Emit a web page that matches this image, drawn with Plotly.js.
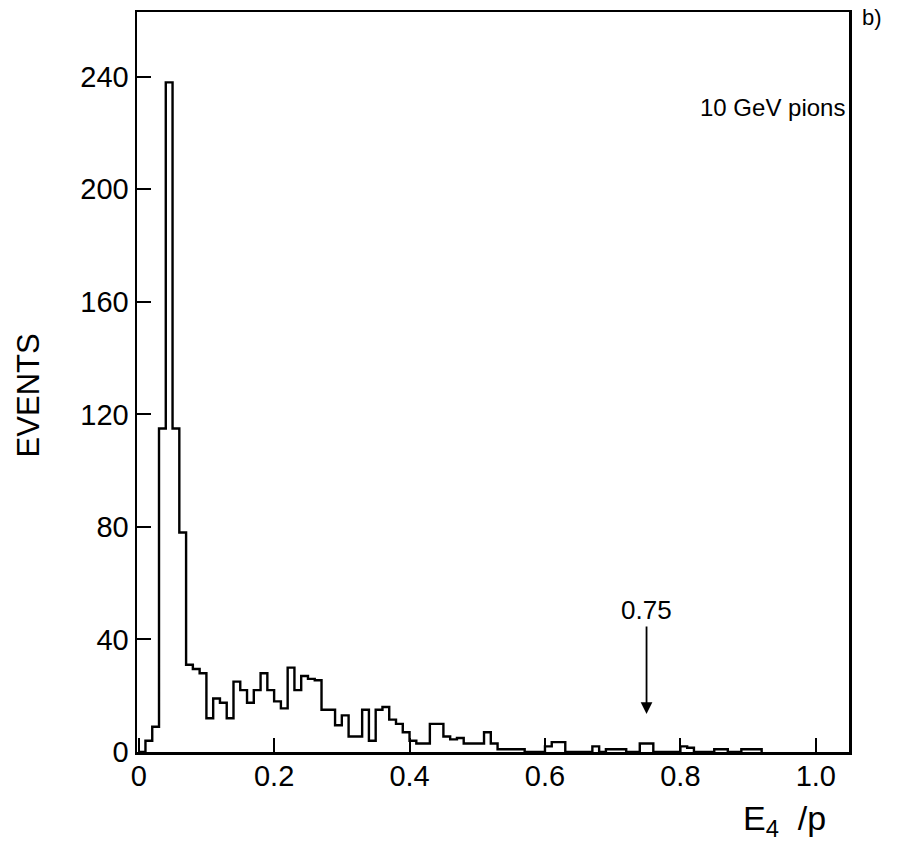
<!DOCTYPE html>
<html>
<head>
<meta charset="utf-8">
<script src="https://cdn.plot.ly/plotly-3.0.1.min.js"></script>
<style>
  html, body { margin: 0; padding: 0; background: #ffffff; }
  #chart { width: 912px; height: 851px; }
</style>
</head>
<body>
<div id="chart"></div>
<script>
// Bin edges of E4/p histogram (bin width 0.01)
const binEdges = [0.00,0.01,0.02,0.03,0.04,0.05,0.06,0.07,0.08,0.09,
  0.10,0.11,0.12,0.13,0.14,0.15,0.16,0.17,0.18,0.19,
  0.20,0.21,0.22,0.23,0.24,0.25,0.26,0.27,0.28,0.29,
  0.30,0.31,0.32,0.33,0.34,0.35,0.36,0.37,0.38,0.39,
  0.40,0.41,0.42,0.43,0.44,0.45,0.46,0.47,0.48,0.49,
  0.50,0.51,0.52,0.53,0.54,0.55,0.56,0.57,0.58,0.59,
  0.60,0.61,0.62,0.63,0.64,0.65,0.66,0.67,0.68,0.69,
  0.70,0.71,0.72,0.73,0.74,0.75,0.76,0.77,0.78,0.79,
  0.80,0.81,0.82,0.83,0.84,0.85,0.86,0.87,0.88,0.89,
  0.90,0.91,0.92];

// Events per bin
const events = [0,4,9,115,238,115,78,31,29.5,28,
  12,19,17.5,12,25,22,17.5,22,28,22,
  18,15.5,30,22,27,26,25.5,15,15,9.5,
  13,5.5,5.5,15,4,15,16,11.5,10,7,
  4,3,3,10,10,5.5,4.5,5,3,3,
  3,7,3,1,1,1,1,0,0,0,
  2,3.5,3.5,0,0,0,0,2,0,1,
  1,1,0,0,3,3,0,0,0,0,
  2,1.5,0,0,0,1,1,0,0,1,
  1,1];

const xTickVals = [0, 0.2, 0.4, 0.6, 0.8, 1.0];
const xTickText = ['0', '0.2', '0.4', '0.6', '0.8', '1.0'];
const yTickVals = [0, 40, 80, 120, 160, 200, 240];
const yTickText = ['0', '40', '80', '120', '160', '200', '240'];

const cutValue = 0.75;
const cutArrowTip = 13.5;

const FONT = '"Liberation Sans", Arial, Helvetica, sans-serif';

const trace = {
  x: binEdges,
  y: events.concat([0]),
  type: 'scatter',
  mode: 'lines',
  line: { shape: 'hv', color: '#000', width: 2.4 },
  hoverinfo: 'skip',
  showlegend: false
};

const layout = {
  width: 912,
  height: 851,
  margin: { l: 137, r: 63, t: 12, b: 99 },
  paper_bgcolor: '#fff',
  plot_bgcolor: '#fff',
  font: { family: FONT, color: '#000', size: 28 },
  showlegend: false,
  xaxis: {
    range: [-0.0025, 1.049],
    tickmode: 'array',
    tickvals: xTickVals,
    ticktext: xTickText,
    ticks: 'inside',
    ticklen: 14,
    tickwidth: 2,
    tickcolor: '#000',
    showline: true,
    linecolor: '#000',
    linewidth: 2.5,
    mirror: true,
    showgrid: false,
    zeroline: false,
    tickfont: { family: FONT, size: 29, color: '#000' },
    ticklabelstandoff: -3
  },
  yaxis: {
    range: [0, 263],
    tickmode: 'array',
    tickvals: yTickVals,
    ticktext: yTickText,
    ticks: 'inside',
    ticklen: 14,
    tickwidth: 2,
    tickcolor: '#000',
    showline: true,
    linecolor: '#000',
    linewidth: 2.5,
    mirror: true,
    showgrid: false,
    zeroline: false,
    tickfont: { family: FONT, size: 29, color: '#000' },
    ticklabelstandoff: 0
  },
  annotations: [
    {
      x: -0.153, y: 0.482, xref: 'paper', yref: 'paper',
      xanchor: 'center', yanchor: 'middle', textangle: -90,
      text: 'EVENTS', showarrow: false,
      font: { family: FONT, size: 31, color: '#000' }
    },
    {
      x: cutValue, y: cutArrowTip, xref: 'x', yref: 'y',
      text: '0.75', showarrow: true,
      ax: 0, ay: -104,
      arrowhead: 2, arrowsize: 1.3, arrowwidth: 1.8, arrowcolor: '#000',
      font: { family: FONT, size: 26, color: '#000' }
    },
    {
      x: 0.788, y: 0.8716, xref: 'paper', yref: 'paper',
      xanchor: 'left', yanchor: 'middle',
      text: '10 GeV pions', showarrow: false,
      font: { family: FONT, size: 24, color: '#000' }
    },
    {
      x: 0.91, y: -0.092, xref: 'paper', yref: 'paper',
      xanchor: 'center', yanchor: 'middle',
      text: 'E<sub>4</sub>&nbsp; /p', showarrow: false,
      font: { family: FONT, size: 34, color: '#000' }
    },
    {
      x: 1.015, y: 0.992, xref: 'paper', yref: 'paper',
      xanchor: 'left', yanchor: 'middle',
      text: 'b)', showarrow: false,
      font: { family: FONT, size: 22, color: '#000' }
    }
  ]
};

Plotly.newPlot('chart', [trace], layout, { staticPlot: true, displayModeBar: false });
</script>
</body>
</html>
